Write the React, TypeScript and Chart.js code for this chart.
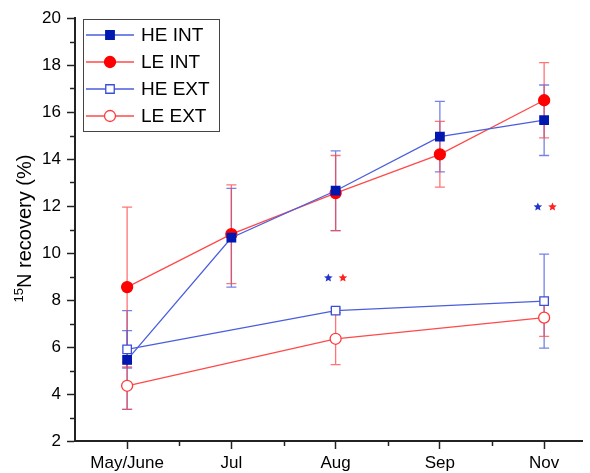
import React, { useEffect, useRef } from "react";
import { Chart, registerables } from "chart.js";

Chart.register(...registerables);

const categories = ["May/June", "Jul", "Aug", "Sep", "Nov"];

const heIntX = [0, 1, 2, 3, 4];
const heIntY = [5.45, 10.65, 12.65, 14.95, 15.65];
const heIntErr = [2.1, 2.1, 1.7, 1.5, 1.5];

const leIntX = [0, 1, 2, 3, 4];
const leIntY = [8.55, 10.8, 12.55, 14.2, 16.5];
const leIntErr = [3.4, 2.1, 1.6, 1.4, 1.6];

const heExtX = [0, 2, 4];
const heExtY = [5.9, 7.55, 7.95];
const heExtErr = [0.8, 0.1, 2.0];

const leExtX = [0, 2, 4];
const leExtY = [4.35, 6.35, 7.25];
const leExtErr = [1.0, 1.1, 0.8];

const yTicks = [2, 4, 6, 8, 10, 12, 14, 16, 18, 20];

// significance markers (data coordinates)
const starX = [1.93, 2.07, 3.94, 4.08];
const starY = [8.94, 8.94, 11.96, 11.96];
const starColors = ["#2233cc", "#ff2020", "#2233cc", "#ff2020"];

const BLUE_DARK = "#0018b0";
const BLUE_LINE = "#4a5ede";
const RED = "#ff0000";
const RED_LINE = "#ff4a4a";
const FONT = "'Liberation Sans', Arial, sans-serif";

const pts = (xs: number[], ys: number[]) => xs.map((x, i) => ({ x, y: ys[i] }));

const seriesMeta = [
  { label: "HE INT", err: heIntErr, line: BLUE_LINE, bar: "rgba(70,90,220,0.75)", style: "rect", fill: BLUE_DARK, border: BLUE_DARK, r: 6 },
  { label: "LE INT", err: leIntErr, line: RED_LINE, bar: "rgba(255,70,70,0.75)", style: "circle", fill: RED, border: RED, r: 5.5 },
  { label: "HE EXT", err: heExtErr, line: BLUE_LINE, bar: "rgba(70,90,220,0.75)", style: "rect", fill: "#ffffff", border: "#3a4ed8", r: 6 },
  { label: "LE EXT", err: leExtErr, line: RED_LINE, bar: "rgba(255,70,70,0.75)", style: "circle", fill: "#ffffff", border: "#ff3a3a", r: 5.5 },
];

function drawStar(ctx: CanvasRenderingContext2D, cx: number, cy: number, R: number, color: string) {
  ctx.beginPath();
  for (let i = 0; i < 10; i++) {
    const rr = i % 2 === 0 ? R : R * 0.45;
    const a = -Math.PI / 2 + (i * Math.PI) / 5;
    const px = cx + rr * Math.cos(a);
    const py = cy + rr * Math.sin(a);
    if (i === 0) ctx.moveTo(px, py);
    else ctx.lineTo(px, py);
  }
  ctx.closePath();
  ctx.fillStyle = color;
  ctx.fill();
}

const errorBarPlugin = {
  id: "errorBars",
  beforeDatasetsDraw(chart: any) {
    const ctx = chart.ctx;
    const ys = chart.scales.y;
    ctx.save();
    chart.data.datasets.forEach((ds: any, di: number) => {
      const meta = chart.getDatasetMeta(di);
      const m = seriesMeta[di];
      ctx.strokeStyle = m.bar;
      ctx.lineWidth = 1.3;
      meta.data.forEach((el: any, i: number) => {
        const v = ds.data[i].y;
        const e = m.err[i];
        const x = el.x;
        const yTop = ys.getPixelForValue(v + e);
        const yBot = ys.getPixelForValue(v - e);
        ctx.beginPath();
        ctx.moveTo(x, yTop);
        ctx.lineTo(x, yBot);
        ctx.moveTo(x - 5, yTop);
        ctx.lineTo(x + 5, yTop);
        ctx.moveTo(x - 5, yBot);
        ctx.lineTo(x + 5, yBot);
        ctx.stroke();
      });
    });
    ctx.restore();
  },
};

const decorPlugin = {
  id: "decor",
  afterDraw(chart: any) {
    const ctx = chart.ctx;
    const xs = chart.scales.x;
    const ys = chart.scales.y;
    const area = chart.chartArea;
    ctx.save();
    // minor ticks
    ctx.strokeStyle = "#222";
    ctx.lineWidth = 1.5;
    for (let v = 3; v < 20; v += 2) {
      const py = Math.round(ys.getPixelForValue(v)) + 0.5;
      ctx.beginPath();
      ctx.moveTo(area.left - 5, py);
      ctx.lineTo(area.left, py);
      ctx.stroke();
    }
    for (let v = 0.5; v < 4.4; v += 1) {
      const px = Math.round(xs.getPixelForValue(v)) + 0.5;
      ctx.beginPath();
      ctx.moveTo(px, area.bottom);
      ctx.lineTo(px, area.bottom + 5);
      ctx.stroke();
    }
    // stars
    starX.forEach((sx, i) => {
      drawStar(ctx, xs.getPixelForValue(sx), ys.getPixelForValue(starY[i]), 4.5, starColors[i]);
    });
    // y title with superscript
    const cx = 31;
    const cy = (area.top + area.bottom) / 2 - 1;
    ctx.translate(cx, cy);
    ctx.rotate(-Math.PI / 2);
    ctx.fillStyle = "#000";
    ctx.textBaseline = "alphabetic";
    ctx.textAlign = "left";
    ctx.font = `normal 13px ${FONT}`;
    const supW = ctx.measureText("15").width;
    ctx.font = `normal 20px ${FONT}`;
    const mainText = "N recovery (%)";
    const mainW = ctx.measureText(mainText).width;
    const total = supW + mainW;
    ctx.font = `normal 13px ${FONT}`;
    ctx.fillText("15", -total / 2, -8);
    ctx.font = `normal 20px ${FONT}`;
    ctx.fillText(mainText, -total / 2 + supW, 0);
    ctx.setTransform(1, 0, 0, 1, 0, 0);
    // legend
    const lx = 83, ly = 19, lw = 136, lh = 112;
    ctx.fillStyle = "#fff";
    ctx.fillRect(lx, ly, lw, lh);
    ctx.strokeStyle = "#444";
    ctx.lineWidth = 1;
    ctx.strokeRect(lx + 0.5, ly + 0.5, lw, lh);
    seriesMeta.forEach((m, i) => {
      const rowY = 35 + i * 27;
      ctx.strokeStyle = m.line;
      ctx.lineWidth = 1.3;
      ctx.beginPath();
      ctx.moveTo(86, rowY);
      ctx.lineTo(134, rowY);
      ctx.stroke();
      ctx.fillStyle = m.fill;
      ctx.strokeStyle = m.border;
      ctx.lineWidth = 1.3;
      if (m.style === "rect") {
        const s = m.r * Math.SQRT1_2;
        ctx.beginPath();
        ctx.rect(110 - s, rowY - s, 2 * s, 2 * s);
        ctx.fill();
        ctx.stroke();
      } else {
        ctx.beginPath();
        ctx.arc(110, rowY, m.r, 0, Math.PI * 2);
        ctx.fill();
        ctx.stroke();
      }
      ctx.fillStyle = "#000";
      ctx.font = `normal 19px ${FONT}`;
      ctx.textBaseline = "middle";
      ctx.textAlign = "left";
      ctx.fillText(m.label, 141, rowY + 1);
    });
    ctx.restore();
  },
};

export default function App() {
  const ref = useRef<HTMLCanvasElement | null>(null);
  useEffect(() => {
    if (!ref.current) return;
    const datasets = [
      pts(heIntX, heIntY),
      pts(leIntX, leIntY),
      pts(heExtX, heExtY),
      pts(leExtX, leExtY),
    ].map((data, i) => {
      const m = seriesMeta[i];
      return {
        label: m.label,
        data,
        borderColor: m.line,
        borderWidth: 1.3,
        pointStyle: m.style,
        pointRadius: m.r,
        pointBackgroundColor: m.fill,
        pointBorderColor: m.border,
        pointBorderWidth: 1.3,
        tension: 0,
        fill: false,
      };
    });
    const tickFont = { family: FONT, size: 17, weight: "normal", style: "normal" };
    const chart = new Chart(ref.current, {
      type: "line",
      data: { datasets },
      plugins: [errorBarPlugin, decorPlugin],
      options: {
        animation: false,
        responsive: false,
        devicePixelRatio: 1,
        layout: { padding: { top: 18, right: 0, left: 0, bottom: 0 } },
        plugins: { legend: { display: false }, tooltip: { enabled: false } },
        scales: {
          x: {
            type: "linear",
            min: -0.5,
            max: 4.37,
            afterBuildTicks: (s: any) => {
              s.ticks = categories.map((_, i) => ({ value: i }));
            },
            afterFit: (s: any) => {
              s.height = 32;
            },
            ticks: {
              callback: (v: any) => categories[v] ?? "",
              color: "#000",
              font: tickFont,
              major: { enabled: false },
              padding: 4,
              maxRotation: 0,
              autoSkip: false,
            },
            grid: { drawOnChartArea: false, drawTicks: true, tickLength: 8, tickColor: "#222", tickWidth: 1.5 },
            border: { display: true, color: "#222", width: 2 },
          },
          y: {
            type: "linear",
            min: 2,
            max: 20,
            afterBuildTicks: (s: any) => {
              s.ticks = yTicks.map((v) => ({ value: v }));
            },
            afterFit: (s: any) => {
              s.width = 75;
            },
            ticks: {
              color: "#000",
              font: tickFont,
              padding: 6,
            },
            grid: { drawOnChartArea: false, drawTicks: true, tickLength: 8, tickColor: "#222", tickWidth: 1.5 },
            border: { display: true, color: "#222", width: 2 },
          },
        },
      } as any,
    });
    return () => chart.destroy();
  }, []);
  return (
    <div style={{ position: "absolute", left: 0, top: 0, width: 590, height: 473, background: "#fff" }}>
      <canvas ref={ref} width={590} height={473} />
    </div>
  );
}
